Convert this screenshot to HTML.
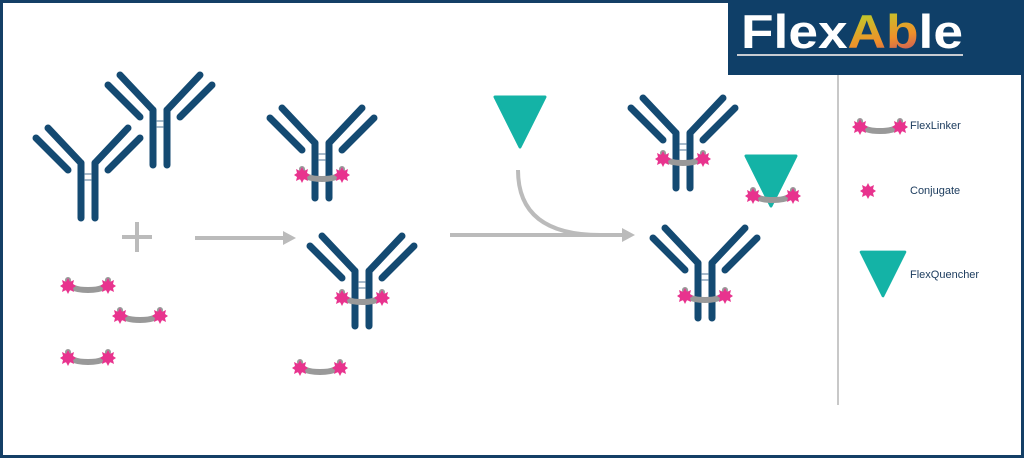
<!DOCTYPE html>
<html><head><meta charset="utf-8"><style>
html,body{margin:0;padding:0;background:#fff}
body{width:1024px;height:458px;overflow:hidden;position:relative;font-family:"Liberation Sans",sans-serif}
</style></head><body>
<svg width="1024" height="458" viewBox="0 0 1024 458" xmlns="http://www.w3.org/2000/svg">
<defs>
<g id="ab" stroke="#144a72" stroke-width="7" stroke-linecap="round" fill="none">
  <line x1="-7" y1="45" x2="-7" y2="100"/>
  <line x1="7" y1="45" x2="7" y2="100"/>
  <line x1="-7" y1="45" x2="-40" y2="10"/>
  <line x1="7" y1="45" x2="40" y2="10"/>
  <line x1="-20" y1="52" x2="-52" y2="20"/>
  <line x1="20" y1="52" x2="52" y2="20"/>
  <line x1="-3" y1="56" x2="3" y2="56" stroke="#8aa4ba" stroke-width="1.5"/>
  <line x1="-3" y1="62" x2="3" y2="62" stroke="#8aa4ba" stroke-width="1.5"/>
</g>
<g id="star" fill="#e8338e">
  <circle r="5"/>
  <polygon points="0,-8 2,-4 6,-6 5,-2 8,0 5,2 6,6 2,4 0,8 -2,4 -6,6 -5,2 -8,0 -5,-2 -6,-6 -2,-4"/>
</g>
<g id="lk">
  <path d="M-20,-5 Q-20,5 0,5 Q20,5 20,-5" stroke="#999" stroke-width="6" fill="none" stroke-linecap="round"/>
  <use href="#star" x="-20" y="1"/>
  <use href="#star" x="20" y="1"/>
</g>
<g id="tri"><path d="M-25,0 L25,0 L0,50 Z" fill="#14b3a6" stroke="#14b3a6" stroke-width="3" stroke-linejoin="round"/></g>
<linearGradient id="rg" x1="0" y1="0" x2="1" y2="1"><stop offset="0" stop-color="#22b573"/><stop offset="0.4" stop-color="#c6c22a"/><stop offset="0.65" stop-color="#f0902a"/><stop offset="1" stop-color="#a3238e"/></linearGradient>
</defs>
<rect x="1.5" y="1.5" width="1021" height="455" fill="#fff" stroke="#143f66" stroke-width="3"/>
<rect x="728" y="0" width="296" height="75" fill="#0f3f68"/>
<text x="741" y="48" font-size="47" font-weight="bold" fill="#fff" textLength="222" lengthAdjust="spacingAndGlyphs">Flex<tspan fill="url(#rg)">Ab</tspan>le</text>
<line x1="737" y1="55" x2="963" y2="55" stroke="#c8ccd2" stroke-width="2"/>
<line x1="838" y1="75" x2="838" y2="405" stroke="#c8c8c8" stroke-width="2"/>

<use href="#ab" x="160" y="65"/>
<use href="#ab" x="88" y="118"/>
<use href="#ab" x="322" y="98"/>
<use href="#lk" x="322" y="174"/>
<use href="#ab" x="362" y="226"/>
<use href="#lk" x="362" y="297"/>
<use href="#ab" x="683" y="88"/>
<use href="#lk" x="683" y="158"/>
<use href="#ab" x="705" y="218"/>
<use href="#lk" x="705" y="295"/>

<g stroke="#bbb" stroke-width="4"><line x1="122" y1="237" x2="152" y2="237"/><line x1="137" y1="222" x2="137" y2="252"/></g>
<use href="#lk" x="88" y="285"/>
<use href="#lk" x="140" y="315"/>
<use href="#lk" x="88" y="357"/>
<use href="#lk" x="320" y="367"/>

<g stroke="#bbb" stroke-width="4" fill="none">
<line x1="195" y1="238" x2="288" y2="238"/>
<line x1="450" y1="235" x2="625" y2="235"/>
<path d="M518,170 Q518,235 600,235"/>
</g>
<polygon points="296,238 283,231 283,245" fill="#bbb"/>
<polygon points="635,235 622,228 622,242" fill="#bbb"/>

<use href="#tri" x="520" y="97"/>
<use href="#tri" x="771" y="156"/>
<use href="#lk" x="773" y="195"/>

<use href="#lk" x="880" y="126"/>
<text x="910" y="129" font-size="11" fill="#1a3a5c">FlexLinker</text>
<use href="#star" x="868" y="191"/>
<text x="910" y="194" font-size="11" fill="#1a3a5c">Conjugate</text>
<g transform="translate(883,252) scale(0.88)"><use href="#tri"/></g>
<text x="910" y="278" font-size="11" fill="#1a3a5c">FlexQuencher</text>
</svg>
</body></html>
